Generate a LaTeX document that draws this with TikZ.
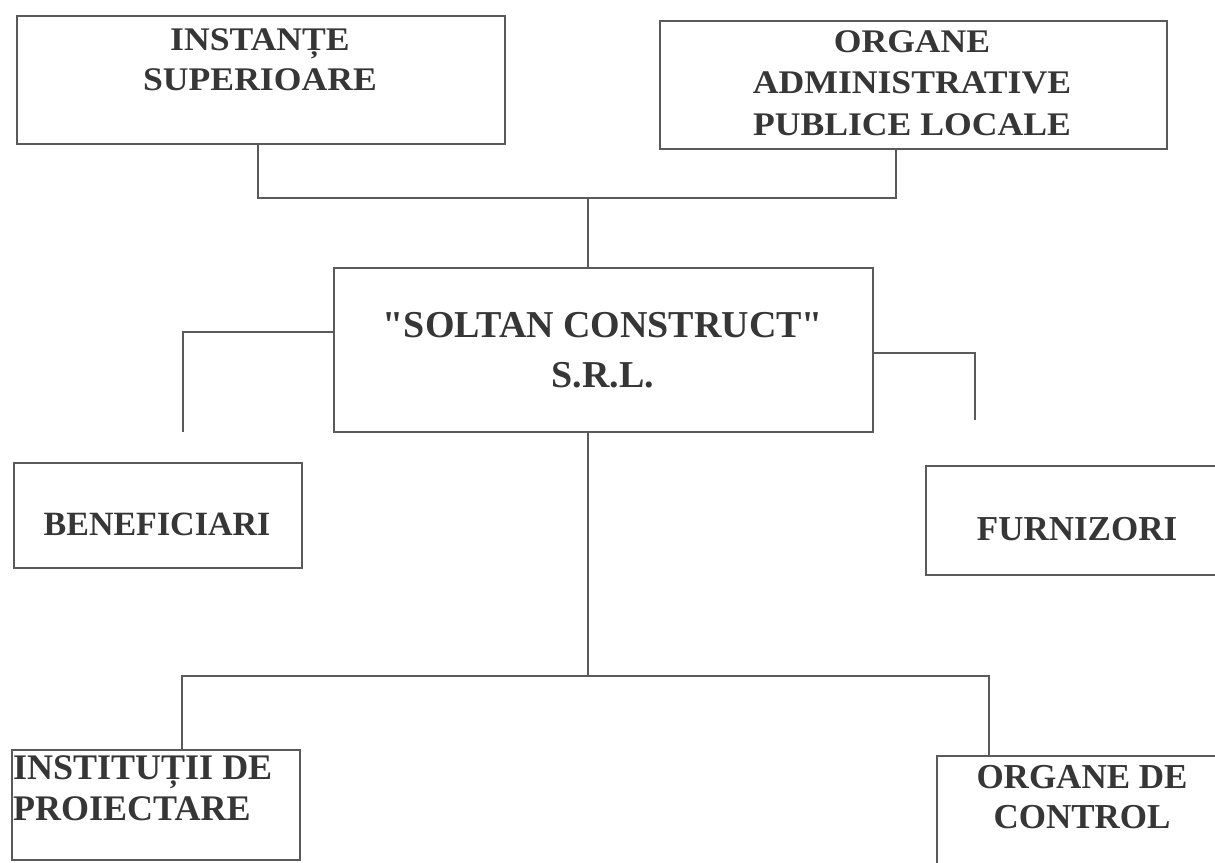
\documentclass[tikz,border=0pt]{standalone}
\usepackage{fontspec}
\setmainfont{Liberation Serif}[Ligatures=TeXOff]
\newfontfamily\widefont{Liberation Serif}[Ligatures=TeXOff,FakeStretch=1.08]
\usetikzlibrary{calc}
\definecolor{ink}{HTML}{363636}
\definecolor{rule}{HTML}{5A5A5A}
\begin{document}
\begin{tikzpicture}[x=1pt,y=-1pt,
  box/.style={draw=rule,line width=1.4pt,rectangle,inner sep=0pt},
  lbl/.style={text=ink,font=\bfseries,inner sep=0pt,align=center},
  conn/.style={draw=rule,line width=1.4pt}]
\useasboundingbox (0,0) rectangle (1215,862);
\clip (0,0) rectangle (1215,862);
\fill[white] (0,0) rectangle (1215,862);
% boxes
\node[box,minimum width=488pt,minimum height=128pt] (b1) at (261,80) {};
\node[box,minimum width=507pt,minimum height=128pt] (b2) at (913.5,85) {};
\node[box,minimum width=539pt,minimum height=164pt] (c) at (603.5,350) {};
\node[box,minimum width=288pt,minimum height=105pt] (ben) at (158,515.5) {};
\node[box,minimum width=302pt,minimum height=109pt] (fur) at (1077,520.5) {};
\node[box,minimum width=288pt,minimum height=110pt] (inst) at (156,805) {};
\node[box,minimum width=293pt,minimum height=124pt] (oc) at (1083.5,818) {};
% texts
\node[lbl,anchor=north,font=\widefont\bfseries\fontsize{33}{40}\selectfont] (t1) at (260,28) {INSTANȚE\\SUPERIOARE};
\node[lbl,anchor=north,font=\widefont\bfseries\fontsize{33}{41.5}\selectfont] (t2) at (912,30) {ORGANE\\ADMINISTRATIVE\\PUBLICE LOCALE};
\node[lbl,anchor=north,font=\bfseries\fontsize{38}{50}\selectfont] (tc) at (603,312) {"SOLTAN CONSTRUCT"\\S.R.L.};
\node[lbl,anchor=base,font=\bfseries\fontsize{34}{40}\selectfont] (tben) at (157,535) {BENEFICIARI};
\node[lbl,anchor=base,font=\bfseries\fontsize{35}{40}\selectfont] (tfur) at (1077,540) {FURNIZORI};
\node[lbl,anchor=north west,align=left,font=\bfseries\fontsize{36}{41}\selectfont] (tinst) at (13,755) {INSTITUȚII DE\\PROIECTARE};
\node[lbl,anchor=north,font=\bfseries\fontsize{35}{40}\selectfont] (toc) at (1082,765) {ORGANE DE\\CONTROL};
% connectors
\coordinate (j1) at (588,198);
\coordinate (lb) at (183,432);
\coordinate (rb) at (975,420);
\coordinate (j2) at (588,676);
\coordinate (hl) at (182,676);
\coordinate (hr) at (989,676);
\draw[conn] ([xshift=-3pt]b1.south) |- (j1) -| ([xshift=-17.5pt]b2.south);
\draw[conn] (j1) -- (c.north -| j1);
\draw[conn] ([yshift=18pt]c.west) -| (lb);
\draw[conn] ([yshift=-3pt]c.east) -| (rb);
\draw[conn] (c.south -| j2) -- (j2);
\draw[conn] (inst.north -| hl) -- (hl) -- (hr) -- (oc.north -| hr);
\end{tikzpicture}
\end{document}
